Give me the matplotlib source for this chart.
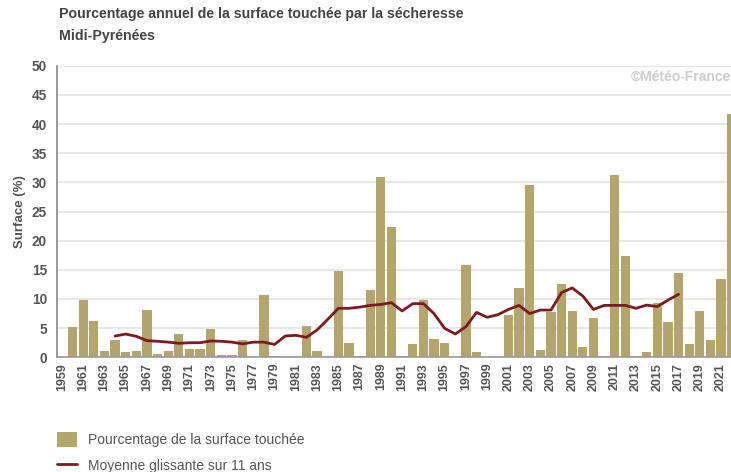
import matplotlib
matplotlib.use("Agg")
import matplotlib.pyplot as plt
import numpy as np

plt.rcParams['font.family'] = ['Liberation Sans', 'DejaVu Sans']

years = list(range(1959, 2023))
surface = [0.0, 5.25, 9.83, 6.28, 1.08, 2.97, 0.85, 1.08, 8.17, 0.62,
           1.08, 4.0, 1.48, 1.48, 4.8, 0.45, 0.45, 2.97, 0.0, 10.63,
           0.28, 0.0, 0.0, 5.37, 1.02, 0.0, 14.8, 2.5, 0.28, 11.54,
           30.86, 22.29, 0.28, 2.28, 9.83, 3.08, 2.5, 0.0, 15.83, 0.85,
           0.0, 0.0, 7.25, 11.88, 29.6, 1.25, 7.7, 12.5, 7.94, 1.7,
           6.74, 0.28, 31.26, 17.3, 0.28, 0.85, 9.37, 6.05, 14.4, 2.28,
           7.94, 2.9, 13.37, 41.66]

ma_years = list(range(1964, 2018))
moving_avg = [3.65, 3.98, 3.6, 2.85, 2.75, 2.6, 2.4, 2.5, 2.5, 2.8,
              2.75, 2.6, 2.3, 2.6, 2.6, 2.2, 3.65, 3.77, 3.43, 4.68,
              6.5, 8.4, 8.4, 8.6, 8.9, 9.06, 9.37, 7.94, 9.2, 9.2,
              7.5, 4.96, 4.0, 5.25, 7.7, 6.86, 7.3, 8.2, 8.9, 7.5,
              8.1, 8.1, 11.1, 11.9, 10.5, 8.2, 8.9, 8.9, 8.9, 8.4,
              8.95, 8.7, 9.8, 10.8]

tick_labels = [str(y) for y in years[::2]]

bar_color = '#b4a46e'
line_color = '#7a1b1e'
text_gray = '#555555'

W, H = 731, 472
fig = plt.figure(figsize=(W / 100, H / 100), dpi=100)
left_px, right_px, bottom_px, top_px = 56.6, 737.0, 357.3, 65.7
ax = fig.add_axes([left_px / W, 1 - bottom_px / H,
                   (right_px - left_px) / W, (bottom_px - top_px) / H])

x = np.arange(len(years))
bars = ax.bar(x, surface, width=0.87, color=bar_color, zorder=2,
              label='Pourcentage de la surface touchée')
ma_x = [years.index(y) for y in ma_years]
line, = ax.plot(ma_x, moving_avg, color=line_color, lw=2.0, zorder=3,
                solid_capstyle='round', label='Moyenne glissante sur 11 ans')

ax.set_xlim(-0.5, len(years) - 0.5)
ax.set_ylim(0, 50)
ax.set_yticks(np.arange(0, 51, 5))
ax.yaxis.grid(True, color='#e6e6e6', lw=1.3, zorder=0)
ax.set_axisbelow(True)
ax.set_xticks(x[::2])
ax.set_xticklabels(tick_labels, rotation=90, fontsize=9, fontweight='bold',
                   color=text_gray)
for lab in ax.get_yticklabels():
    lab.set_fontweight('bold')
    lab.set_color(text_gray)
    lab.set_fontsize(9.8)
ax.tick_params(axis='y', length=0, pad=7)
ax.tick_params(axis='x', length=0, pad=4)
for s in ['top', 'right']:
    ax.spines[s].set_visible(False)
ax.spines['left'].set_color('#888888')
ax.spines['left'].set_linewidth(1.2)
ax.spines['bottom'].set_color('#999999')
ax.spines['bottom'].set_linewidth(1.2)

ax.set_ylabel('Surface (%)', fontsize=9.5, fontweight='bold', color=text_gray,
              labelpad=4)

fig.text(59 / W, 1 - 14 / H, 'Pourcentage annuel de la surface touchée par la sécheresse',
         fontsize=10.2, fontweight='bold', color='#444444', va='center', ha='left')
fig.text(59 / W, 1 - 36 / H, 'Midi-Pyrénées',
         fontsize=10.2, fontweight='bold', color='#444444', va='center', ha='left')

fig.text(731 / W, 1 - 77 / H, '©Météo-France', fontsize=10, fontweight='bold',
         color='#cccccc', va='center', ha='right')

leg = fig.legend(handles=[bars, line],
                 labels=['Pourcentage de la surface touchée', 'Moyenne glissante sur 11 ans'],
                 loc='upper left', bbox_to_anchor=(51 / W, 1 - 426 / H),
                 frameon=False, fontsize=10, handlelength=1.45, handleheight=1.35,
                 handletextpad=0.8, labelspacing=0.75, borderaxespad=0)
for t in leg.get_texts():
    t.set_color(text_gray)

fig.savefig('out.png', dpi=100)
